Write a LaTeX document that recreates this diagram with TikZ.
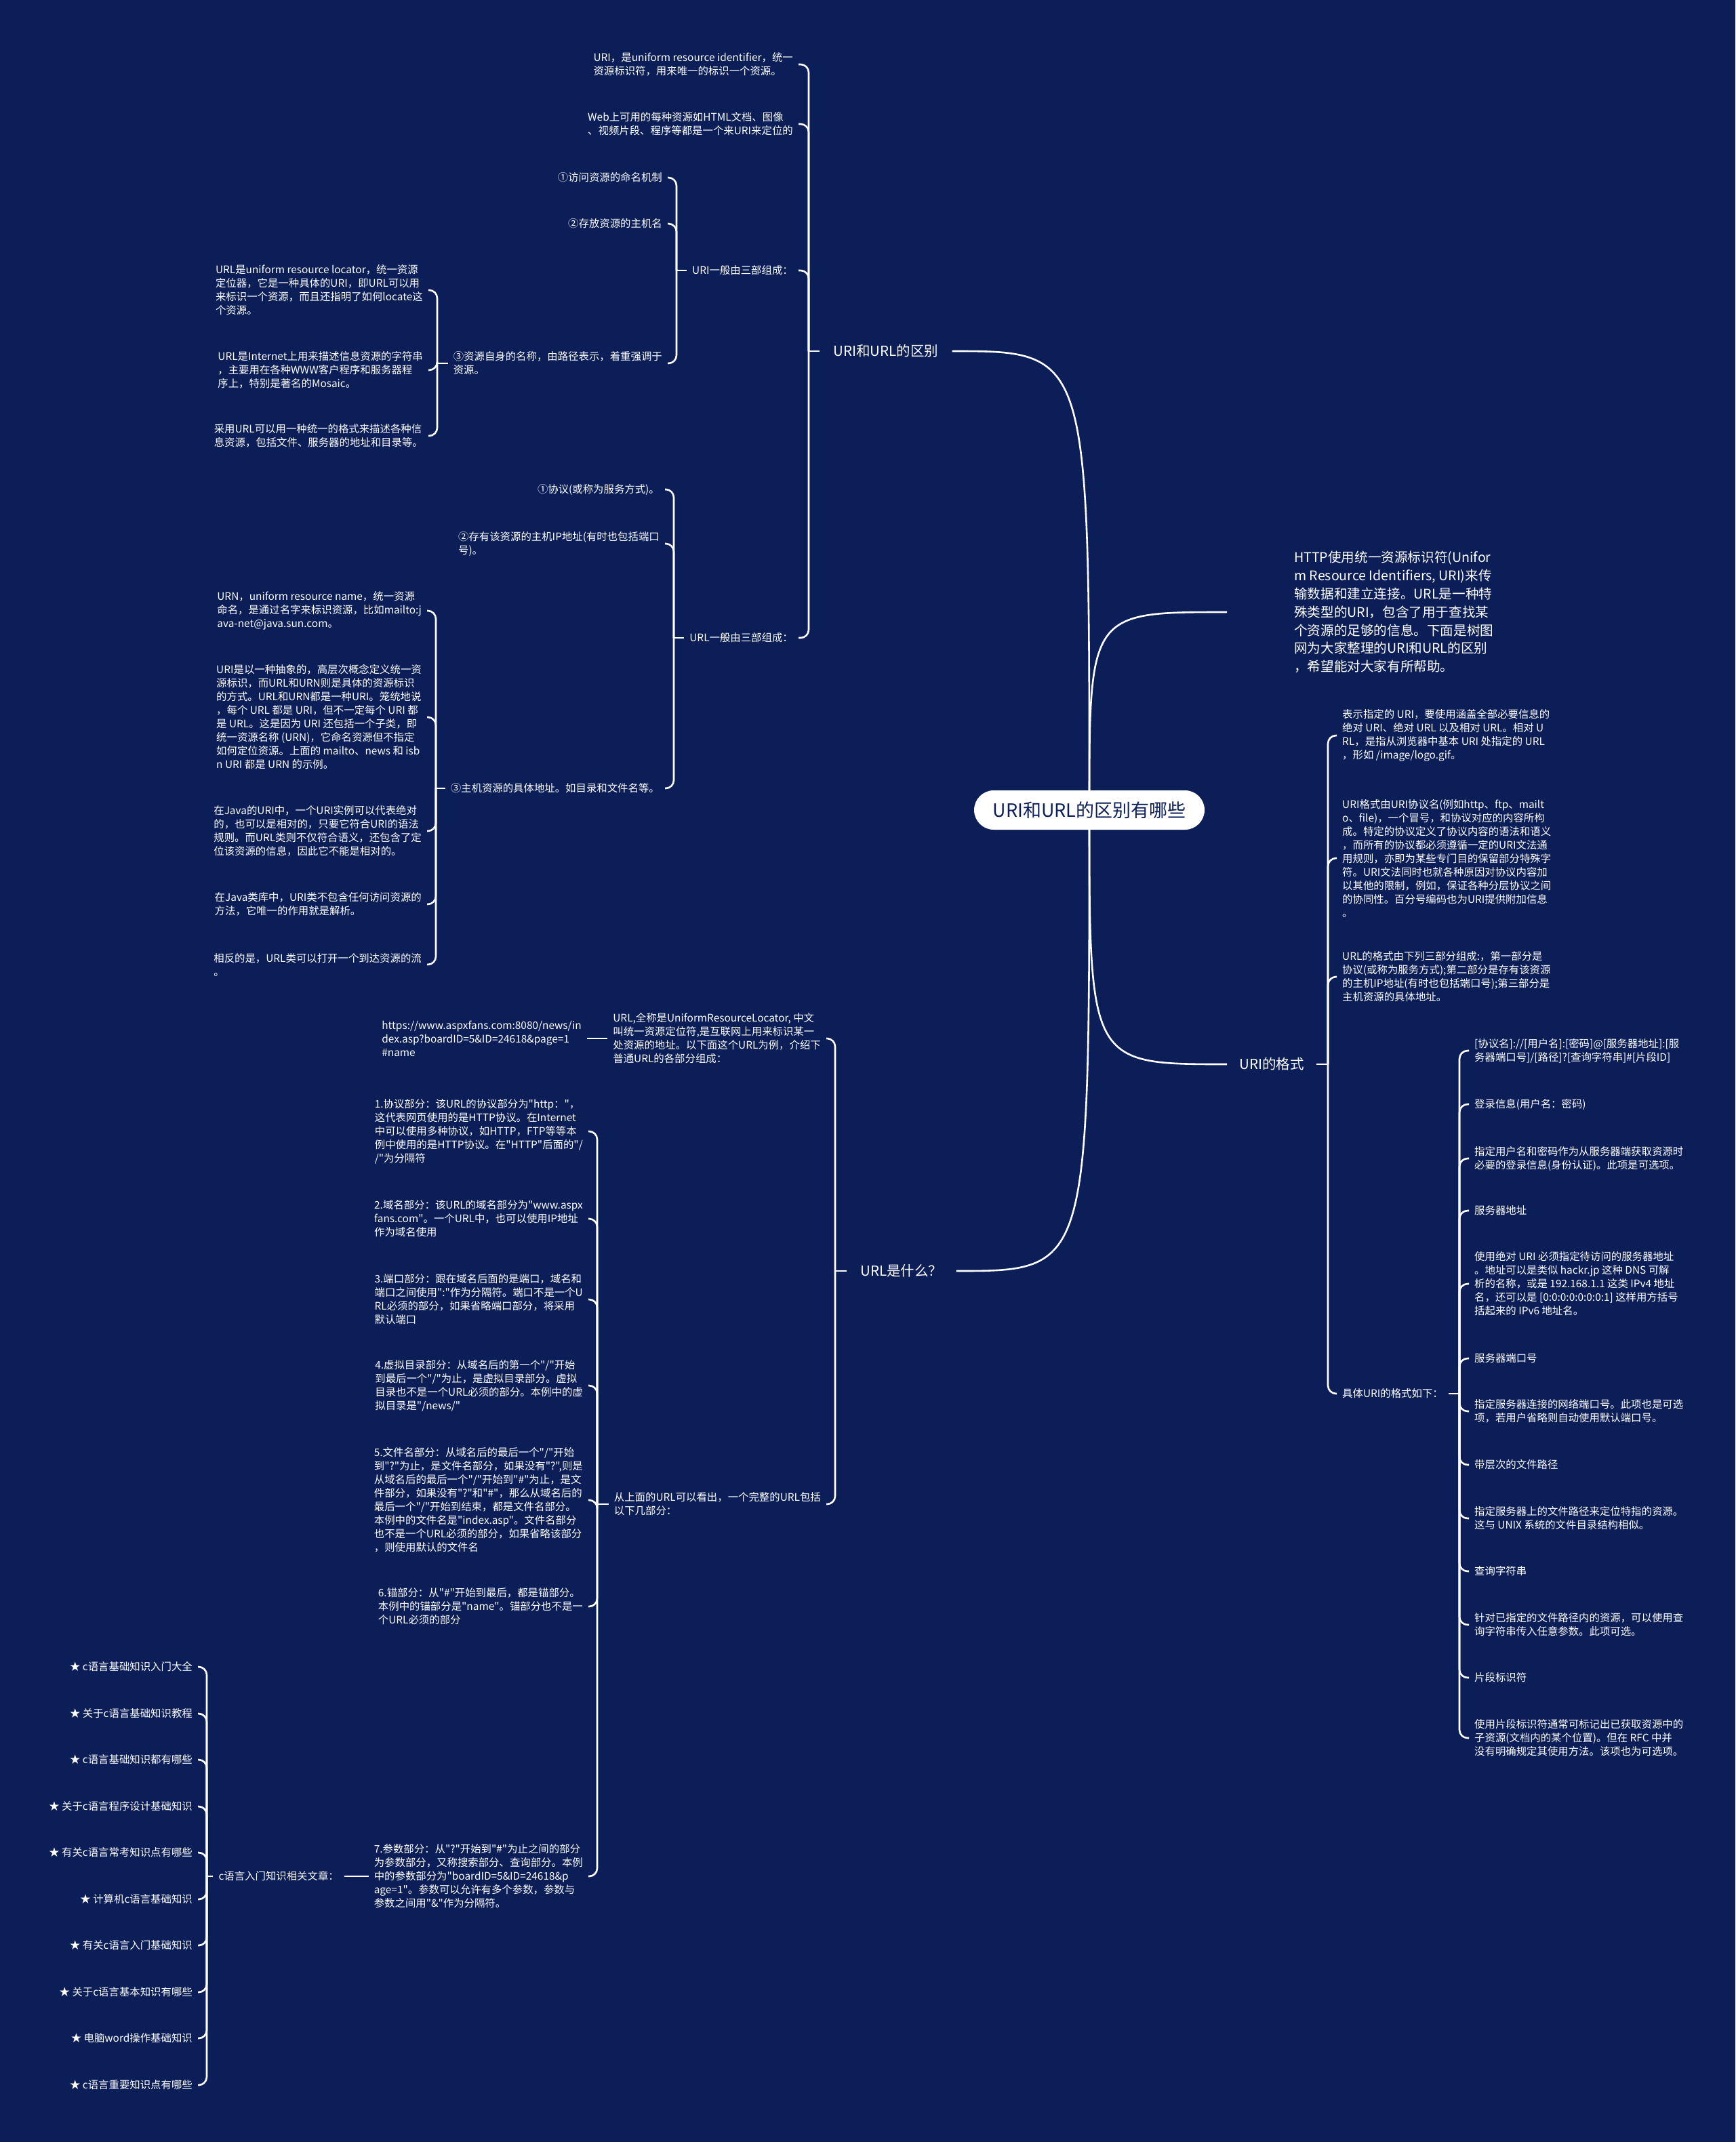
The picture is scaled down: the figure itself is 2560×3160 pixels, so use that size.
\documentclass[tikz,border=0pt]{standalone}
\usepackage{fontspec}
\usetikzlibrary{backgrounds}
\newfontfamily\cjk{Noto Sans CJK SC}
\definecolor{bgc}{RGB}{12,30,88}
\begin{document}
\begin{tikzpicture}[x=1pt,y=-1pt]
\tikzset{
  conn/.style={draw=white, line width=2.6pt, rounded corners=12pt},
  curv/.style={draw=white, line width=2.6pt},
  leaf/.style={text=white, align=left, inner xsep=8pt, inner ysep=2pt, font=\cjk\fontsize{15.4}{20}\selectfont},
  Lc/.style={leaf, anchor=east},
  Rc/.style={leaf, anchor=west},
  lone/.style={text=white, inner xsep=20pt, inner ysep=2pt, font=\cjk\fontsize{20.5}{24}\selectfont},
  intro/.style={text=white, align=left, inner xsep=99pt, anchor=west, font=\cjk\fontsize{19.6}{26.8}\selectfont},
  rootbox/.style={fill=white, text=bgc, rounded corners=29pt, minimum width=340pt, minimum height=58pt, font=\cjk\fontsize{27}{30}\selectfont},
}
\useasboundingbox (0,0) rectangle (2560,3160);

% spine coordinates
\coordinate (sA) at (1193,0);
\coordinate (sD3) at (998,0);
\coordinate (sD33) at (645,0);
\coordinate (sD4) at (994,0);
\coordinate (sD43) at (643,0);
\coordinate (sA2) at (1232,0);
\coordinate (sG2) at (881,0);
\coordinate (sK) at (305,0);
\coordinate (sB2) at (1959,0);
\coordinate (sC4) at (2153,0);

% root and level 1
\node[rootbox] (root) at (1607,1195) {URI和URL的区别有哪些};
\node[lone] (A1) at (1307,518) {URI和URL的区别};
\node[lone] (A2) at (1330,1875) {URL是什么？};
\node[intro] (B1) at (1810,903) {HTTP使用统一资源标识符(Unifor\\m Resource Identifiers, URI)来传\\输数据和建立连接。URL是一种特\\殊类型的URI，包含了用于查找某\\个资源的足够的信息。下面是树图\\网为大家整理的URI和URL的区别\\，希望能对大家有所帮助。};
\node[lone, anchor=west, inner xsep=18pt] (B2) at (1810,1570) {URI的格式};

% A1 children
\node[Lc] (D1) at (1178,95) {URI，是uniform resource identifier，统一\\资源标识符，用来唯一的标识一个资源。};
\node[Lc] (D2) at (1178,183) {Web上可用的每种资源如HTML文档、图像\\、视频片段、程序等都是一个来URI来定位的};
\node[Lc] (D3) at (1178,399) {URI一般由三部组成：};
\node[Lc] (D4) at (1178,941) {URL一般由三部组成：};

% D3 children
\node[Lc] (D31) at (985,262) {①访问资源的命名机制};
\node[Lc] (D32) at (985,330) {②存放资源的主机名};
\node[Lc] (D33) at (985,536) {③资源自身的名称，由路径表示，着重强调于\\资源。};

% D33 children
\node[Lc] (E1) at (632,428) {URL是uniform resource locator，统一资源\\定位器，它是一种具体的URI，即URL可以用\\来标识一个资源，而且还指明了如何locate这\\个资源。};
\node[Lc] (E2) at (632,546) {URL是Internet上用来描述信息资源的字符串\\，主要用在各种WWW客户程序和服务器程\\序上，特别是著名的Mosaic。};
\node[Lc] (E3) at (632,643) {采用URL可以用一种统一的格式来描述各种信\\息资源，包括文件、服务器的地址和目录等。};

% D4 children
\node[Lc] (D41) at (981,722) {①协议(或称为服务方式)。};
\node[Lc] (D42) at (981,802) {②存有该资源的主机IP地址(有时也包括端口\\号)。};
\node[Lc] (D43) at (981,1163) {③主机资源的具体地址。如目录和文件名等。};

% D43 children
\node[Lc] (F1) at (630,901) {URN，uniform resource name，统一资源\\命名，是通过名字来标识资源，比如mailto:j\\ava-net@java.sun.com。};
\node[Lc] (F2) at (630,1058) {URI是以一种抽象的，高层次概念定义统一资\\源标识，而URL和URN则是具体的资源标识\\的方式。URL和URN都是一种URI。笼统地说\\，每个 URL 都是 URI，但不一定每个 URI 都\\是 URL。这是因为 URI 还包括一个子类，即\\统一资源名称 (URN)，它命名资源但不指定\\如何定位资源。上面的 mailto、news 和 isb\\n URI 都是 URN 的示例。};
\node[Lc] (F3) at (630,1226) {在Java的URI中，一个URI实例可以代表绝对\\的，也可以是相对的，只要它符合URI的语法\\规则。而URL类则不仅符合语义，还包含了定\\位该资源的信息，因此它不能是相对的。};
\node[Lc] (F4) at (630,1334) {在Java类库中，URI类不包含任何访问资源的\\方法，它唯一的作用就是解析。};
\node[Lc] (F5) at (630,1423) {相反的是，URL类可以打开一个到达资源的流\\。};

% A2 children
\node[Lc] (G1) at (1219,1532) {URL,全称是UniformResourceLocator, 中文\\叫统一资源定位符,是互联网上用来标识某一\\处资源的地址。以下面这个URL为例，介绍下\\普通URL的各部分组成：};
\node[Lc] (G2) at (1219,2219) {从上面的URL可以看出，一个完整的URL包括\\以下几部分：};
\node[Lc] (U1) at (866,1532) {https://www.aspxfans.com:8080/news/in\\dex.asp?boardID=5\&ID=24618\&page=1\\\#name};

% G2 children
\node[Lc] (H1) at (868,1669) {1.协议部分：该URL的协议部分为"http："，\\这代表网页使用的是HTTP协议。在Internet\\中可以使用多种协议，如HTTP，FTP等等本\\例中使用的是HTTP协议。在"HTTP"后面的"/\\/"为分隔符};
\node[Lc] (H2) at (868,1798) {2.域名部分：该URL的域名部分为"www.aspx\\fans.com"。一个URL中，也可以使用IP地址\\作为域名使用};
\node[Lc] (H3) at (868,1917) {3.端口部分：跟在域名后面的是端口，域名和\\端口之间使用":"作为分隔符。端口不是一个U\\RL必须的部分，如果省略端口部分，将采用\\默认端口};
\node[Lc] (H4) at (868,2044) {4.虚拟目录部分：从域名后的第一个"/"开始\\到最后一个"/"为止，是虚拟目录部分。虚拟\\目录也不是一个URL必须的部分。本例中的虚\\拟目录是"/news/"};
\node[Lc] (H5) at (868,2213) {5.文件名部分：从域名后的最后一个"/"开始\\到"?"为止，是文件名部分，如果没有"?",则是\\从域名后的最后一个"/"开始到"\#"为止，是文\\件部分，如果没有"?"和"\#"，那么从域名后的\\最后一个"/"开始到结束，都是文件名部分。\\本例中的文件名是"index.asp"。文件名部分\\也不是一个URL必须的部分，如果省略该部分\\，则使用默认的文件名};
\node[Lc] (H6) at (868,2370) {6.锚部分：从"\#"开始到最后，都是锚部分。\\本例中的锚部分是"name"。锚部分也不是一\\个URL必须的部分};
\node[Lc] (H7) at (868,2768) {7.参数部分：从"?"开始到"\#"为止之间的部分\\为参数部分，又称搜索部分、查询部分。本例\\中的参数部分为"boardID=5\&ID=24618\&p\\age=1"。参数可以允许有多个参数，参数与\\参数之间用"\&"作为分隔符。};
\node[Lc] (K) at (508,2768) {c语言入门知识相关文章：};

% K children
\node[Lc] (K1) at (292,2459) {★ c语言基础知识入门大全};
\node[Lc] (K2) at (292,2528) {★ 关于c语言基础知识教程};
\node[Lc] (K3) at (292,2596) {★ c语言基础知识都有哪些};
\node[Lc] (K4) at (292,2665) {★ 关于c语言程序设计基础知识};
\node[Lc] (K5) at (292,2733) {★ 有关c语言常考知识点有哪些};
\node[Lc] (K6) at (292,2802) {★ 计算机c语言基础知识};
\node[Lc] (K7) at (292,2870) {★ 有关c语言入门基础知识};
\node[Lc] (K8) at (292,2939) {★ 关于c语言基本知识有哪些};
\node[Lc] (K9) at (292,3007) {★ 电脑word操作基础知识};
\node[Lc] (K10) at (292,3076) {★ c语言重要知识点有哪些};

% B2 children
\node[Rc] (C1) at (1972,1085) {表示指定的 URI，要使用涵盖全部必要信息的\\绝对 URI、绝对 URL 以及相对 URL。相对 U\\RL，是指从浏览器中基本 URI 处指定的 URL\\，形如 /image/logo.gif。};
\node[Rc] (C2) at (1972,1266) {URI格式由URI协议名(例如http、ftp、mailt\\o、file)，一个冒号，和协议对应的内容所构\\成。特定的协议定义了协议内容的语法和语义\\，而所有的协议都必须遵循一定的URI文法通\\用规则，亦即为某些专门目的保留部分特殊字\\符。URI文法同时也就各种原因对协议内容加\\以其他的限制，例如，保证各种分层协议之间\\的协同性。百分号编码也为URI提供附加信息\\。};
\node[Rc] (C3) at (1972,1441) {URL的格式由下列三部分组成:，第一部分是\\协议(或称为服务方式);第二部分是存有该资源\\的主机IP地址(有时也包括端口号);第三部分是\\主机资源的具体地址。};
\node[Rc] (C4) at (1972,2056) {具体URI的格式如下：};

% C4 children
\node[Rc] (P1) at (2167,1550) {[协议名]://[用户名]:[密码]@[服务器地址]:[服\\务器端口号]/[路径]?[查询字符串]\#[片段ID]};
\node[Rc] (P2) at (2167,1629) {登录信息(用户名：密码)};
\node[Rc] (P3) at (2167,1709) {指定用户名和密码作为从服务器端获取资源时\\必要的登录信息(身份认证)。此项是可选项。};
\node[Rc] (P4) at (2167,1786) {服务器地址};
\node[Rc] (P5) at (2167,1894) {使用绝对 URI 必须指定待访问的服务器地址\\。地址可以是类似 hackr.jp 这种 DNS 可解\\析的名称，或是 192.168.1.1 这类 IPv4 地址\\名，还可以是 [0:0:0:0:0:0:0:1] 这样用方括号\\括起来的 IPv6 地址名。};
\node[Rc] (P6) at (2167,2004) {服务器端口号};
\node[Rc] (P7) at (2167,2082) {指定服务器连接的网络端口号。此项也是可选\\项，若用户省略则自动使用默认端口号。};
\node[Rc] (P8) at (2167,2161) {带层次的文件路径};
\node[Rc] (P9) at (2167,2240) {指定服务器上的文件路径来定位特指的资源。\\这与 UNIX 系统的文件目录结构相似。};
\node[Rc] (P10) at (2167,2318) {查询字符串};
\node[Rc] (P11) at (2167,2397) {针对已指定的文件路径内的资源，可以使用查\\询字符串传入任意参数。此项可选。};
\node[Rc] (P12) at (2167,2475) {片段标识符};
\node[Rc] (P13) at (2167,2564) {使用片段标识符通常可标记出已获取资源中的\\子资源(文档内的某个位置)。但在 RFC 中并\\没有明确规定其使用方法。该项也为可选项。};

% background and level-1 curves (behind root)
\begin{scope}[on background layer]
\fill[bgc] (0,0) rectangle (2560,3160);
\draw[curv] (root.center) .. controls (root.center |- A1.east) .. (A1.east);
\draw[curv] (root.center) .. controls (root.center |- A2.east) .. (A2.east);
\draw[curv] (root.center) .. controls (root.center |- B1.west) .. (B1.west);
\draw[curv] (root.center) .. controls (root.center |- B2.west) .. (B2.west);
\end{scope}

% left groups
\draw[conn] (A1.west) -- (A1.west -| sA);
\foreach \c in {D1,D2,D3,D4} \draw[conn] (A1.west -| sA) |- (\c.east);
\draw[conn] (D3.west) -- (D3.west -| sD3);
\foreach \c in {D31,D32,D33} \draw[conn] (D3.west -| sD3) |- (\c.east);
\draw[conn] (D33.west) -- (D33.west -| sD33);
\foreach \c in {E1,E2,E3} \draw[conn] (D33.west -| sD33) |- (\c.east);
\draw[conn] (D4.west) -- (D4.west -| sD4);
\foreach \c in {D41,D42,D43} \draw[conn] (D4.west -| sD4) |- (\c.east);
\draw[conn] (D43.west) -- (D43.west -| sD43);
\foreach \c in {F1,F2,F3,F4,F5} \draw[conn] (D43.west -| sD43) |- (\c.east);
\draw[conn] (A2.west) -- (A2.west -| sA2);
\foreach \c in {G1,G2} \draw[conn] (A2.west -| sA2) |- (\c.east);
\draw[conn] (G1.west) -- (U1.east);
\draw[conn] (G2.west) -- (G2.west -| sG2);
\foreach \c in {H1,H2,H3,H4,H5,H6,H7} \draw[conn] (G2.west -| sG2) |- (\c.east);
\draw[conn] (H7.west) -- (K.east);
\draw[conn] (K.west) -- (K.west -| sK);
\foreach \c in {K1,K2,K3,K4,K5,K6,K7,K8,K9,K10} \draw[conn] (K.west -| sK) |- (\c.east);

% right groups
\draw[conn] (B2.east) -- (B2.east -| sB2);
\foreach \c in {C1,C2,C3,C4} \draw[conn] (B2.east -| sB2) |- (\c.west);
\draw[conn] (C4.east) -- (C4.east -| sC4);
\foreach \c in {P1,P2,P3,P4,P5,P6,P7,P8,P9,P10,P11,P12,P13} \draw[conn] (C4.east -| sC4) |- (\c.west);
\end{tikzpicture}
\end{document}
